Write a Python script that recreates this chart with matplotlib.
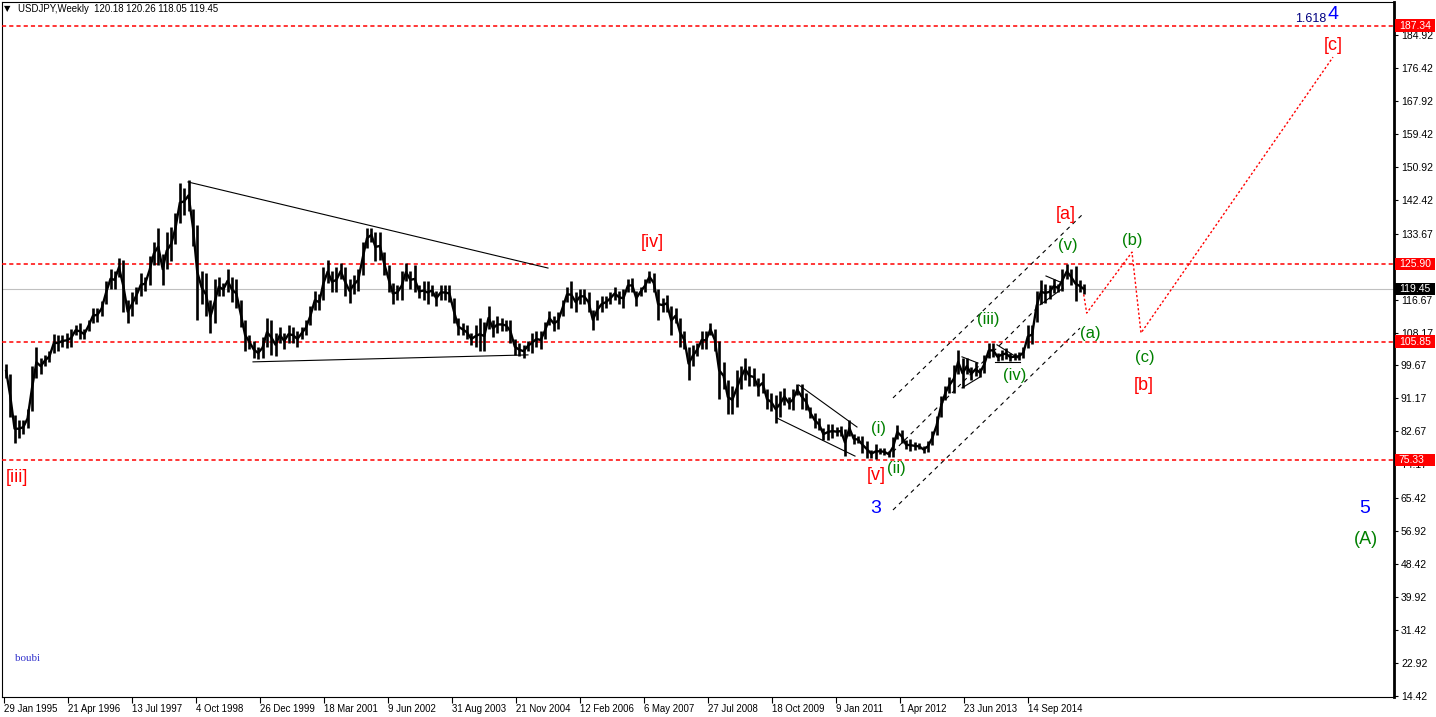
import numpy as np
import pandas as pd
import matplotlib
matplotlib.use('Agg')
import matplotlib.pyplot as plt
import matplotlib.transforms as mtransforms
from matplotlib.patches import Rectangle

plt.rcParams['font.family'] = ['Liberation Sans', 'DejaVu Sans']
plt.rcParams['lines.scale_dashes'] = False

START = pd.Timestamp('1995-01-29')

# USDJPY monthly high / low, Feb 1995 .. Oct 2015
first_month = '1995-02'
highs = [
    100.0, 97.5, 87.0, 85.7, 85.5, 88.5, 99.6, 104.5, 101.5, 102.5, 103.5,               # 1995
    107.9, 107.5, 107.5, 108.0, 109.0, 110.0, 110.5, 109.0, 111.5, 114.5, 114.5, 116.3,  # 1996
    121.5, 124.6, 124.0, 127.5, 127.0, 116.5, 118.5, 120.0, 123.5, 122.5, 128.0, 131.5,  # 1997
    135.2, 128.5, 134.0, 135.5, 139.0, 146.8, 145.5, 147.6, 140.0, 136.0, 124.0, 123.5,  # 1998
    116.5, 122.0, 122.5, 121.0, 124.5, 122.5, 122.0, 116.5, 111.5, 107.5, 106.0, 104.5,  # 1999
    107.0, 112.0, 111.5, 108.0, 109.5, 108.0, 110.0, 109.5, 108.5, 109.5, 111.5, 115.0,  # 2000
    119.0, 118.0, 125.0, 126.8, 124.0, 125.0, 126.0, 125.0, 122.0, 123.0, 124.5, 131.5,  # 2001
    135.0, 135.2, 134.0, 134.0, 129.0, 125.5, 121.0, 120.5, 124.0, 126.0, 124.0, 125.5,  # 2002
    120.5, 121.5, 121.5, 120.5, 119.0, 120.5, 120.5, 120.5, 117.0, 112.0, 110.5, 110.0,  # 2003
    108.0, 110.0, 112.0, 111.0, 114.9, 111.5, 112.5, 112.0, 111.5, 111.5, 106.5, 105.5,  # 2004
    105.0, 106.0, 108.0, 108.5, 108.5, 111.0, 113.7, 112.5, 113.5, 116.5, 120.0, 121.4,  # 2005
    118.5, 119.5, 119.5, 118.5, 114.0, 116.5, 117.5, 117.5, 118.5, 120.0, 119.0, 119.5,  # 2006
    122.0, 122.2, 119.0, 120.0, 122.0, 124.1, 123.5, 119.5, 117.0, 117.9, 115.0, 114.5,  # 2007
    112.0, 108.5, 104.5, 105.0, 105.5, 108.5, 108.5, 110.5, 109.0, 106.0, 100.5, 96.0,   # 2008
    94.5, 98.5, 99.5, 101.5, 99.5, 98.9, 96.5, 97.8, 93.5, 92.5, 92.0, 93.0,             # 2009
    93.8, 91.5, 93.5, 94.8, 94.9, 92.5, 89.0, 87.5, 86.0, 83.5, 84.5, 84.5,              # 2010
    83.7, 84.0, 83.3, 85.5, 82.0, 81.5, 81.5, 80.3, 77.9, 79.5, 78.3, 78.3,              # 2011
    77.6, 81.2, 84.2, 83.0, 80.5, 80.6, 80.0, 79.6, 78.9, 80.2, 82.8, 86.6,              # 2012
    91.7, 94.5, 96.7, 99.9, 103.7, 101.5, 101.5, 99.2, 100.6, 99.0, 102.5, 105.4,        # 2013
    105.4, 103.0, 103.7, 104.1, 102.8, 102.8, 103.1, 104.5, 110.1, 110.1, 119.0, 121.8,  # 2014
    120.8, 120.5, 122.0, 120.8, 124.5, 125.9, 124.6, 125.3, 121.7, 120.6,                # 2015
]
lows = [
    96.5, 86.5, 79.75, 81.0, 82.0, 83.5, 88.0, 96.5, 97.5, 99.5, 100.5,                  # 1995
    103.0, 103.5, 104.5, 104.3, 104.5, 107.5, 106.5, 106.5, 108.5, 110.5, 111.0, 112.5,  # 1996
    115.5, 119.5, 119.5, 122.5, 113.5, 110.6, 112.5, 115.5, 117.5, 119.0, 120.5, 125.5,  # 1997
    125.5, 120.5, 124.5, 126.5, 131.0, 136.5, 138.5, 139.5, 130.5, 111.5, 115.5, 112.5,  # 1998
    108.0, 110.5, 117.5, 117.5, 118.5, 116.0, 114.5, 109.5, 103.5, 104.0, 101.5, 101.3,  # 1999
    101.5, 104.5, 102.5, 102.0, 105.5, 104.0, 105.5, 105.5, 104.5, 106.5, 107.5, 110.0,  # 2000
    114.0, 114.0, 116.5, 121.0, 118.5, 118.5, 122.0, 117.5, 115.8, 118.0, 119.0, 123.0,  # 2001
    130.0, 131.5, 126.5, 127.0, 123.0, 118.5, 115.5, 116.5, 116.5, 121.5, 119.5, 118.5,  # 2002
    117.0, 116.5, 115.5, 117.5, 115.0, 116.5, 116.5, 116.0, 110.5, 107.5, 107.5, 106.5,  # 2003
    105.0, 104.5, 103.5, 103.5, 109.0, 107.0, 108.0, 108.5, 108.5, 105.5, 102.5, 102.0,  # 2004
    101.7, 103.5, 103.0, 104.5, 104.0, 106.5, 110.0, 108.5, 109.0, 112.5, 116.0, 114.5,  # 2005
    113.5, 115.5, 115.5, 113.5, 108.9, 111.5, 113.5, 114.5, 115.5, 116.5, 115.5, 114.5,  # 2006
    118.5, 118.5, 115.0, 117.5, 118.5, 121.0, 118.5, 111.5, 113.5, 113.5, 107.5, 110.5,  # 2007
    104.5, 104.0, 95.8, 99.5, 102.0, 104.0, 103.8, 107.5, 103.5, 90.9, 93.5, 87.1,       # 2008
    87.1, 89.0, 93.5, 96.0, 94.5, 94.5, 91.8, 92.5, 88.5, 88.0, 84.8, 86.5,              # 2009
    89.5, 88.5, 88.2, 92.0, 88.5, 88.2, 86.0, 83.6, 82.9, 80.4, 80.5, 81.0,              # 2010
    81.5, 81.5, 76.3, 81.5, 79.5, 79.6, 77.0, 75.9, 75.9, 75.5, 76.8, 76.5,              # 2011
    76.0, 76.1, 80.8, 79.8, 78.0, 77.6, 77.9, 78.0, 77.1, 77.4, 79.1, 81.7,              # 2012
    86.5, 90.8, 92.5, 92.6, 97.5, 93.8, 97.5, 95.8, 96.9, 96.6, 97.6, 101.6,             # 2013
    101.8, 100.8, 101.2, 101.4, 100.8, 101.1, 101.0, 101.5, 104.2, 105.2, 111.0, 115.6,  # 2014
    115.9, 116.9, 118.3, 118.5, 118.9, 122.0, 120.4, 116.2, 118.6, 118.05,               # 2015
]

price_ticks = [14.42, 22.92, 31.42, 39.92, 48.42, 56.92, 65.42, 74.17, 82.67, 91.17, 99.67,
               108.17, 116.67, 125.17, 133.67, 142.42, 150.92, 159.42, 167.92, 176.42, 184.92]
date_ticks = ['29 Jan 1995', '21 Apr 1996', '13 Jul 1997', '4 Oct 1998', '26 Dec 1999',
              '18 Mar 2001', '9 Jun 2002', '31 Aug 2003', '21 Nov 2004', '12 Feb 2006',
              '6 May 2007', '27 Jul 2008', '18 Oct 2009', '9 Jan 2011', '1 Apr 2012',
              '23 Jun 2013', '14 Sep 2014']

red_levels = [187.34, 125.90, 105.85, 75.33]
last_close = 119.45
header = 'USDJPY,Weekly  120.18 120.26 118.05 119.45'

# trend lines (date, price) -> (date, price)
solid_lines = [
    (('1998-08-11', 147.0), ('2005-07-05', 124.8)),
    (('1999-11-09', 100.6), ('2005-02-15', 102.4)),
    (('2010-04-27', 94.6), ('2011-06-07', 83.8)),
    (('2009-11-24', 86.1), ('2011-05-24', 76.3)),
    (('2013-06-11', 101.9), ('2013-10-01', 100.3)),
    (('2013-06-11', 93.9), ('2013-10-15', 96.7)),
    (('2014-02-11', 105.0), ('2014-07-08', 101.6)),
    (('2014-01-28', 100.6), ('2014-07-22', 100.6)),
    (('2014-12-09', 115.3), ('2015-05-19', 119.6)),
    (('2015-01-20', 122.75), ('2015-05-12', 121.0)),
]
channel_lines = [
    (('2012-02-14', 91.3), ('2015-09-29', 138.5)),
    (('2012-02-14', 77.4), ('2014-11-18', 114.5)),
    (('2012-02-14', 62.4), ('2015-09-15', 109.3)),
]
proj_dates = ['2015-10-11', '2015-11-01', '2016-09-13', '2016-11-15', '2020-07-21']
proj_prices = [118.0, 113.2, 128.9, 108.05, 179.2]

RED, GREEN, BLUE = '#ff0000', '#008000', '#0000ff'
wave_labels = [
    ('[iii]', '1995-05-02', 70.65, RED, 13),
    ('[iv]', '2007-07-03', 131.5, RED, 13),
    ('[v]', '2011-10-18', 71.4, RED, 13),
    ('3', '2011-10-18', 62.9, BLUE, 14),
    ('(i)', '2011-11-08', 83.3, GREEN, 12),
    ('(ii)', '2012-03-06', 73.0, GREEN, 12),
    ('(iii)', '2013-12-10', 111.4, GREEN, 12),
    ('(iv)', '2014-06-17', 97.2, GREEN, 12),
    ('(v)', '2015-06-23', 130.7, GREEN, 12),
    ('[a]', '2015-06-09', 138.5, RED, 13),
    ('(a)', '2015-11-24', 107.8, GREEN, 12),
    ('(b)', '2016-09-13', 131.8, GREEN, 12),
    ('(c)', '2016-12-13', 101.6, GREEN, 12),
    ('[b]', '2016-12-06', 94.4, RED, 13),
    ('[c]', '2020-07-21', 182.1, RED, 13),
    ('4', '2020-07-21', 190.1, BLUE, 14),
    ('5', '2021-03-02', 62.9, BLUE, 14),
    ('(A)', '2021-03-09', 54.9, GREEN, 13),
]


def wk(d):
    return (pd.Timestamp(d) - START).days / 7.0


fig = plt.figure(figsize=(14.36, 7.17), dpi=100)
ax = fig.add_axes([2 / 1436, 20 / 717, 1392 / 1436, 695 / 717])
ax.set_xlim(-1.7, 1390.3)
ax.set_ylim(14.16, 193.42)

# monthly bars, thin, joined through their mid range
months = pd.date_range(first_month, periods=len(highs), freq='MS')
mid = np.array([wk(m + pd.Timedelta(days=14)) for m in months])
hi = np.array(highs)
lo = np.array(lows)
ax.vlines(mid, lo, hi, color='black', lw=1.9, zorder=4)
ax.plot(mid, (hi + lo) / 2, color='black', lw=1.7, zorder=4)

# horizontal levels
for lv in red_levels:
    ax.axhline(lv, color=RED, lw=1.1, ls=(0, (3, 2.2)), zorder=3)
ax.axhline(last_close, color='#c0c0c0', lw=0.8, zorder=2)

for (d0, p0), (d1, p1) in solid_lines:
    ax.plot([wk(d0), wk(d1)], [p0, p1], color='black', lw=0.8, zorder=5)
for (d0, p0), (d1, p1) in channel_lines:
    ax.plot([wk(d0), wk(d1)], [p0, p1], color='black', lw=0.8, ls=(0, (3, 3)), zorder=5)
ax.plot([wk(d) for d in proj_dates], proj_prices, color=RED, lw=1.0, ls=(0, (1.6, 1.6)), zorder=5)

for txt, d, p, c, fs in wave_labels:
    ax.text(wk(d), p, txt, color=c, fontsize=fs, ha='center', va='center', zorder=6)
ax.text(wk('2020-02-18'), 189.0, '1.618', color='#000080', fontsize=9, ha='center', va='center')
ax.text(wk('1995-07-18'), 24.2, 'boubi', color='#3333cc', fontsize=8,
        family='Liberation Serif', ha='center', va='center')

# axes styling
for s in ['left', 'bottom', 'top']:
    ax.spines[s].set_linewidth(0.8)
ax.spines['right'].set_linewidth(2.0)
ax.yaxis.tick_right()
ax.set_yticks(price_ticks)
# 125.17 sits fully under the 125.90 box on the original scale
ax.set_yticklabels(['' if v == 125.17 else f'{v:.2f}' for v in price_ticks])
ax.tick_params(axis='y', direction='out', length=3, width=0.8, pad=2, labelsize=7.5)
ax.set_xticks([wk(pd.to_datetime(t, format='%d %b %Y')) for t in date_ticks])
ax.set_xticklabels(date_ticks)
ax.tick_params(axis='x', direction='out', length=4, width=0.8, pad=1, labelsize=6.9)
for lab in ax.get_xticklabels():
    lab.set_ha('left')

# price boxes on the right scale
trans = mtransforms.blended_transform_factory(ax.transAxes, ax.transData)
boxes = [(lv, RED) for lv in red_levels] + [(last_close, 'black')]
for lv, c in boxes:
    ax.add_patch(Rectangle((1.0008, lv - 1.6), 0.0285, 3.2, transform=trans,
                           facecolor=c, edgecolor='none', clip_on=False, zorder=10))
    ax.text(1.0035, lv, f'{lv:.2f}', transform=trans, color='white', fontsize=7.5,
            ha='left', va='center', clip_on=False, zorder=11)

fig.text(4 / 1436, 1 - 9 / 717, '\u25bc', fontsize=6, va='center', family='DejaVu Sans')
fig.text(18 / 1436, 1 - 9 / 717, header, fontsize=6.9, va='center')

fig.savefig('out.png', dpi=100)
